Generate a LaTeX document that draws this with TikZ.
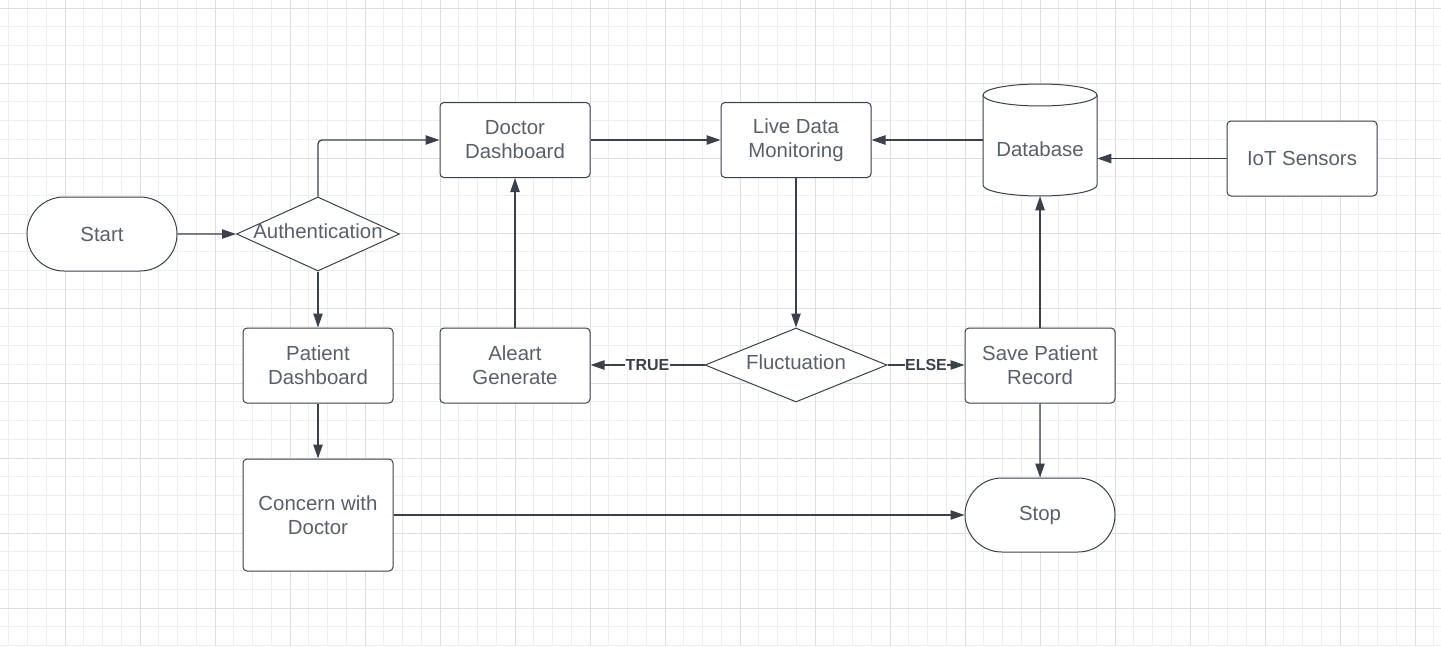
\documentclass[tikz,border=0pt]{standalone}
\usepackage{fontspec}
\setmainfont{Liberation Sans}
\usetikzlibrary{arrows.meta,shapes.geometric,shapes.misc}
\definecolor{edgec}{RGB}{58,65,74}
\definecolor{txtc}{RGB}{90,96,105}
\definecolor{gridminor}{RGB}{238,238,238}
\definecolor{gridmajor}{RGB}{222,222,222}
\begin{document}
\begin{tikzpicture}[x=0.75pt,y=-0.75pt,
  nodefont/.style={font=\fontsize{15.3}{18}\selectfont},
  box/.style={draw=edgec, line width=0.75pt, rounded corners=3pt, fill=white,
    minimum width=112.5pt, minimum height=56.25pt, align=center, text=txtc,
    nodefont, inner sep=0pt},
  term/.style={rounded rectangle, draw=edgec, line width=0.75pt, fill=white,
    minimum width=112.5pt, minimum height=55.5pt, text=txtc, nodefont, inner sep=0pt},
  diam/.style={diamond, draw=edgec, line width=0.75pt, fill=white,
    minimum width=122.25pt, minimum height=55.5pt, inner sep=0pt},
  dbnode/.style={minimum width=85.5pt, minimum height=84pt, inner sep=0pt},
  arr/.style={draw=edgec, line width=1pt, -{Triangle[length=10.5pt,width=7pt]}},
  lbl/.style={fill=white, text=edgec, font=\bfseries\fontsize{12}{14}\selectfont, inner sep=0.3pt}
]
\useasboundingbox (0,0) rectangle (1441,646);
\fill[white] (0,0) rectangle (1441,646);
% grid
\foreach \x in {8.75,27.5,...,1441} \draw[gridminor, line width=0.75pt] (\x,0) -- (\x,646);
\foreach \y in {8,26.75,...,646} \draw[gridminor, line width=0.75pt] (0,\y) -- (1441,\y);
\foreach \x in {65,140,...,1415} \draw[gridmajor, line width=0.75pt] (\x,0) -- (\x,646);
\foreach \y in {8,83,...,608} \draw[gridmajor, line width=0.75pt] (0,\y) -- (1441,\y);

% nodes
\node[term] (start) at (102,234) {Start};
\node[diam, label={[text=txtc, nodefont, yshift=2.25pt]center:Authentication}] (auth) at (318,234) {};
\node[box] (doc) at (515,140) {Doctor\\Dashboard};
\node[box] (live) at (796,140) {Live Data\\Monitoring};
% database cylinder
\path[draw=edgec, line width=0.75pt, fill=white] (983,95)
  arc[start angle=180, end angle=360, x radius=57, y radius=11] -- (1097,185)
  arc[start angle=0, end angle=180, x radius=57, y radius=11] -- cycle;
\draw[edgec, line width=0.75pt] (983,95) arc[start angle=180, end angle=0, x radius=57, y radius=11];
\node[dbnode, label={[text=txtc, nodefont, yshift=-6.75pt]center:Database}] (db) at (1040,140) {};
\node[box] (iot) at (1302,158.5) {IoT Sensors};
\node[box] (pat) at (318,365.5) {Patient\\Dashboard};
\node[box] (alert) at (515,365.5) {Aleart\\Generate};
\node[diam, minimum width=136.5pt, label={[text=txtc, nodefont, yshift=2.25pt]center:Fluctuation}] (fluct) at (796,365) {};
\node[box] (save) at (1040,365.5) {Save Patient\\Record};
\node[box, minimum height=84pt] (concern) at (318,515) {Concern with\\Doctor};
\node[term] (stop) at (1040,515) {Stop};

% connectors
\draw[arr] (start) -- (auth);
\draw[arr, rounded corners=3pt] (auth.north) |- (doc.west);
\draw[arr] (auth) -- (pat);
\draw[arr] (pat) -- (concern);
\draw[arr] (concern) -- (stop);
\draw[arr] (doc) -- (live);
\draw[arr] (db.west) -- (live.east);
\draw[arr] (iot.west) -- (db.east |- iot.west);
\draw[arr] (live) -- (fluct);
\draw[arr] (fluct.west) -- node[lbl]{TRUE} (alert.east |- fluct.west);
\draw[arr] (fluct.east) -- node[lbl]{ELSE} (save.west |- fluct.east);
\draw[arr] (alert) -- (doc);
\draw[arr] (save) -- (db.south);
\draw[arr] (save) -- (stop);
\end{tikzpicture}
\end{document}
